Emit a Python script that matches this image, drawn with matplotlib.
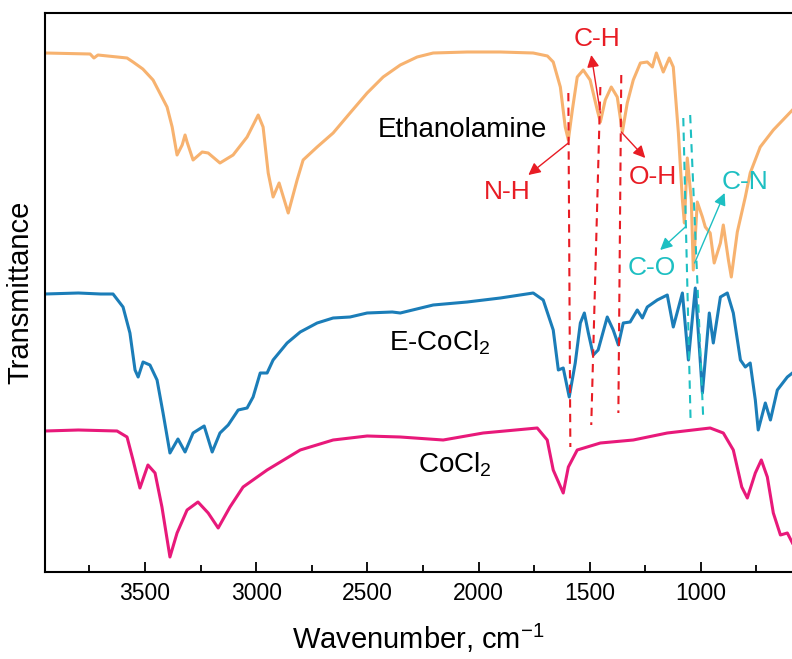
import matplotlib.pyplot as plt
import numpy as np
from matplotlib.ticker import MultipleLocator

plt.rcParams['font.family'] = ['Liberation Sans', 'DejaVu Sans']
plt.rcParams['mathtext.fontset'] = 'custom'
plt.rcParams['mathtext.rm'] = 'Liberation Sans'
plt.rcParams['mathtext.it'] = 'Liberation Sans'
plt.rcParams['axes.unicode_minus'] = False

# Ethanolamine (orange), wavenumber in cm-1, transmittance in a.u. (offset)
wn_eth = [3950, 3747, 3730, 3712, 3581, 3554, 3510, 3464, 3401, 3378, 3356, 3333, 3320, 3311,
          3284, 3243, 3216, 3163, 3104, 3041, 2991, 2969, 2946, 2924, 2897, 2856, 2816,
          2789, 2726, 2654, 2578, 2501, 2429, 2352, 2276, 2204, 2051, 1902, 1754, 1690, 1664,
          1632, 1610, 1596, 1578, 1556, 1529, 1498, 1466, 1452, 1430, 1403, 1376, 1353,
          1331, 1304, 1272, 1241, 1218, 1200, 1169, 1142, 1124, 1101, 1083, 1074, 1061,
          1043, 1034, 1016, 993, 980, 958, 940, 912, 899, 876, 863, 836, 800, 778, 733,
          674, 588]
t_eth = [5.19, 5.18, 5.14, 5.17, 5.14, 5.10, 5.03, 4.92, 4.65, 4.45, 4.17, 4.27, 4.37, 4.30,
         4.12, 4.20, 4.19, 4.09, 4.17, 4.35, 4.57, 4.45, 3.99, 3.75, 3.89, 3.59, 3.92,
         4.12, 4.25, 4.39, 4.59, 4.79, 4.95, 5.07, 5.15, 5.19, 5.20, 5.20, 5.19, 5.16, 5.10,
         4.85, 4.45, 4.32, 4.62, 4.95, 5.02, 4.92, 4.62, 4.50, 4.72, 4.85, 4.75, 4.40,
         4.69, 4.92, 5.09, 5.10, 5.05, 5.19, 5.00, 5.14, 5.05, 4.39, 3.72, 3.49, 4.14,
         3.72, 3.02, 3.70, 3.55, 3.45, 3.39, 3.09, 3.29, 3.47, 3.12, 2.95, 3.40, 3.75,
         3.99, 4.25, 4.42, 4.62]

# E-CoCl2 (blue)
wn_eco = [3950, 3800, 3700, 3644, 3599, 3568, 3545, 3531, 3509, 3478, 3446, 3419, 3388,
          3352, 3320, 3284, 3234, 3198, 3163, 3126, 3081, 3041, 3014, 2982, 2951, 2924,
          2861, 2802, 2726, 2654, 2578, 2501, 2388, 2352, 2204, 2051, 1902, 1754, 1709,
          1664, 1641, 1619, 1592, 1565, 1542, 1524, 1506, 1484, 1462, 1421, 1394, 1371,
          1349, 1318, 1286, 1263, 1241, 1196, 1151, 1124, 1083, 1056, 1025, 993, 962,
          944, 912, 881, 854, 822, 800, 778, 755, 742, 710, 687, 656, 611, 588]
t_eco = [2.78, 2.79, 2.78, 2.78, 2.65, 2.39, 2.02, 1.95, 2.10, 2.07, 1.92, 1.59, 1.19,
         1.33, 1.20, 1.39, 1.46, 1.20, 1.39, 1.47, 1.62, 1.64, 1.75, 1.99, 1.99, 2.12,
         2.29, 2.40, 2.49, 2.54, 2.55, 2.59, 2.60, 2.59, 2.67, 2.70, 2.74, 2.79, 2.72,
         2.42, 2.02, 2.04, 1.75, 2.09, 2.49, 2.59, 2.39, 2.17, 2.22, 2.55, 2.42, 2.27,
         2.49, 2.50, 2.62, 2.54, 2.65, 2.72, 2.77, 2.45, 2.79, 2.12, 2.84, 1.79, 2.59,
         2.29, 2.75, 2.79, 2.59, 2.12, 2.05, 2.09, 1.72, 1.42, 1.69, 1.52, 1.82, 1.95, 1.99]

# CoCl2 (pink)
wn_co = [3950, 3800, 3626, 3581, 3554, 3523, 3487, 3455, 3424, 3388, 3356, 3311, 3262,
         3216, 3171, 3118, 3059, 2951, 2802, 2654, 2501, 2352, 2159, 1979, 1736, 1691,
         1664, 1619, 1596, 1556, 1452, 1304, 1151, 958, 899, 854, 816, 791, 755, 728,
         701, 674, 642, 611, 588]
t_co = [1.41, 1.42, 1.41, 1.35, 1.12, 0.84, 1.07, 0.99, 0.65, 0.15, 0.39, 0.62, 0.70,
        0.59, 0.44, 0.65, 0.85, 1.02, 1.22, 1.32, 1.36, 1.35, 1.32, 1.39, 1.44, 1.32,
        1.02, 0.79, 1.05, 1.22, 1.29, 1.32, 1.39, 1.44, 1.39, 1.22, 0.85, 0.74, 0.99,
        1.12, 0.95, 0.59, 0.37, 0.39, 0.29]

# marker lines (wavenumber top, bottom; transmittance top, bottom)
red_lines = [((1596, 1587), (4.79, 1.25)),
             ((1452, 1493), (4.85, 1.47)),
             ((1358, 1371), (4.97, 1.59))]
cyan_lines = [((1079, 1046), (4.54, 1.50)),
              ((1048, 989), (4.57, 1.52))]

col_eth = '#F7B26F'
col_eco = '#1B7DB8'
col_co = '#E8197A'
col_red = '#E81C24'
col_cyan = '#1DBFC2'

fig = plt.figure(figsize=(7.92, 6.59), dpi=100)
ax = fig.add_axes([45 / 792, 87 / 659, 747 / 792, 559 / 659])

ax.plot(wn_eth, t_eth, color=col_eth, lw=2.2)
ax.plot(wn_eco, t_eco, color=col_eco, lw=2.2)
ax.plot(wn_co, t_co, color=col_co, lw=2.2)

for xs, ys in red_lines:
    ax.plot(xs, ys, color=col_red, lw=1.5, ls=(0, (4, 3)))
for xs, ys in cyan_lines:
    ax.plot(xs, ys, color=col_cyan, lw=1.5, ls=(0, (4, 3)))

def pointer(txt, tail, head, txt_pos, col):
    ax.annotate('', xy=head, xytext=tail,
                arrowprops=dict(arrowstyle='-|>', color=col, lw=1.0, mutation_scale=18,
                                shrinkA=0, shrinkB=0))
    ax.text(txt_pos[0], txt_pos[1], txt, color=col, fontsize=19, ha='center', va='center')

pointer('C-H', (1452, 4.59), (1493, 5.17), (1466, 5.33), col_red)
pointer('N-H', (1596, 4.29), (1776, 3.97), (1871, 3.80), col_red)
pointer('O-H', (1358, 4.40), (1250, 4.14), (1214, 3.95), col_red)
pointer('C-O', (1070, 3.45), (1183, 3.22), (1219, 3.04), col_cyan)
pointer('C-N', (1028, 3.09), (893, 3.79), (800, 3.90), col_cyan)

ax.text(2074, 4.42, 'Ethanolamine', fontsize=20, ha='center', va='center')
ax.text(2175, 2.29, 'E-CoCl$_2$', fontsize=20, ha='center', va='center')
ax.text(2105, 1.07, 'CoCl$_2$', fontsize=20, ha='center', va='center')

ax.set_xlim(3950, 590)
ax.set_ylim(0, 5.59)
ax.xaxis.set_major_locator(MultipleLocator(500))
ax.xaxis.set_minor_locator(MultipleLocator(250))
ax.tick_params(axis='x', which='major', direction='in', length=7, width=1.3,
               labelsize=16.5, pad=7)
ax.tick_params(axis='x', which='minor', direction='in', length=5, width=1.3)
ax.set_yticks([])
ax.spines['right'].set_visible(False)
for s in ['top', 'left', 'bottom']:
    ax.spines[s].set_linewidth(1.5)

ax.set_xlabel('Wavenumber, cm$^{-1}$', fontsize=21, labelpad=12)
ax.set_ylabel('Transmittance', fontsize=21, labelpad=8)

fig.savefig('out.png', dpi=100)
